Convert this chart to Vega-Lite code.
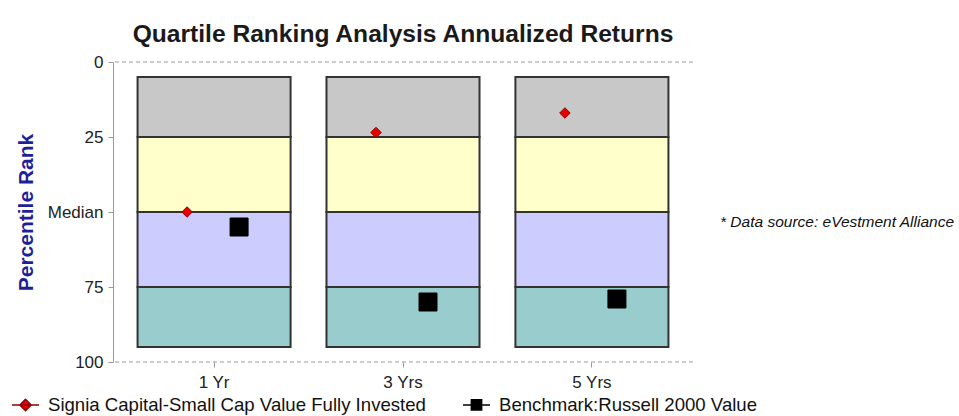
{
  "$schema": "https://vega.github.io/schema/vega-lite/v6.json",
  "padding": {"left": 11, "top": 22, "right": 0, "bottom": 0},
  "bounds": "flush",
  "spacing": 7,
  "config": {
    "view": {"stroke": null},
    "font": "Liberation Sans",
    "legend": {
      "orient": "none",
      "legendX": -102,
      "legendY": 328,
      "direction": "horizontal",
      "labelFontSize": 18.6,
      "labelColor": "#111111",
      "symbolSize": 729,
      "symbolStrokeWidth": 1.5,
      "symbolOpacity": 1,
      "columnPadding": 34,
      "labelOffset": 8,
      "padding": 0,
      "labelLimit": 500
    }
  },
  "datasets": {
    "bands": [
      {"period": "1 Yr", "quartile": "Q1", "lo": 5, "hi": 25},
      {"period": "1 Yr", "quartile": "Q2", "lo": 25, "hi": 50},
      {"period": "1 Yr", "quartile": "Q3", "lo": 50, "hi": 75},
      {"period": "1 Yr", "quartile": "Q4", "lo": 75, "hi": 95},
      {"period": "3 Yrs", "quartile": "Q1", "lo": 5, "hi": 25},
      {"period": "3 Yrs", "quartile": "Q2", "lo": 25, "hi": 50},
      {"period": "3 Yrs", "quartile": "Q3", "lo": 50, "hi": 75},
      {"period": "3 Yrs", "quartile": "Q4", "lo": 75, "hi": 95},
      {"period": "5 Yrs", "quartile": "Q1", "lo": 5, "hi": 25},
      {"period": "5 Yrs", "quartile": "Q2", "lo": 25, "hi": 50},
      {"period": "5 Yrs", "quartile": "Q3", "lo": 50, "hi": 75},
      {"period": "5 Yrs", "quartile": "Q4", "lo": 75, "hi": 95}
    ],
    "ranks": [
      {"period": "1 Yr", "series": "Signia Capital-Small Cap Value Fully Invested", "rank": 50},
      {"period": "3 Yrs", "series": "Signia Capital-Small Cap Value Fully Invested", "rank": 23.5},
      {"period": "5 Yrs", "series": "Signia Capital-Small Cap Value Fully Invested", "rank": 17},
      {"period": "1 Yr", "series": "Benchmark:Russell 2000 Value", "rank": 55},
      {"period": "3 Yrs", "series": "Benchmark:Russell 2000 Value", "rank": 80},
      {"period": "5 Yrs", "series": "Benchmark:Russell 2000 Value", "rank": 79}
    ],
    "grid": [{"g": 0}, {"g": 100}],
    "note": [{"note": "* Data source: eVestment Alliance"}]
  },
  "hconcat": [
    {
      "width": 580,
      "height": 300,
      "title": {
        "text": "Quartile Ranking Analysis Annualized Returns",
        "font": "Liberation Sans",
        "fontSize": 24.6,
        "fontWeight": "bold",
        "color": "#1a1a1a",
        "anchor": "middle",
        "offset": 5
      },
      "layer": [
        {
          "data": {"name": "grid"},
          "mark": {"type": "rule", "color": "#9a9a9a", "strokeDash": [4, 3], "strokeWidth": 1},
          "encoding": {
            "y": {
              "field": "g",
              "type": "quantitative",
              "scale": {"domain": [0, 100], "reverse": true, "nice": false, "zero": false},
              "axis": {
                "values": [0, 25, 50, 75, 100],
                "labelExpr": "datum.value == 50 ? 'Median' : datum.label",
                "grid": false,
                "domainColor": "#9a9a9a",
                "tickColor": "#9a9a9a",
                "tickSize": 5,
                "labelFontSize": 17,
                "labelColor": "#222222",
                "labelPadding": 5,
                "labelFlush": false,
                "labelOverlap": false,
                "title": "Percentile Rank",
                "titleColor": "#1f1f99",
                "titleFontSize": 21,
                "titleFontWeight": "bold",
                "titlePadding": 11
              }
            }
          }
        },
        {
          "data": {"name": "ranks"},
          "mark": {"type": "point", "filled": true, "size": 729, "strokeWidth": 1.5, "opacity": 1},
          "encoding": {
            "x": {
              "field": "period",
              "type": "nominal",
              "sort": ["1 Yr", "3 Yrs", "5 Yrs"],
              "scale": {"paddingInner": 0.19, "paddingOuter": 0.13},
              "axis": {
                "labelAngle": 0,
                "labelAlign": "center",
                "domain": false,
                "tickColor": "#9a9a9a",
                "tickSize": 5,
                "labelFontSize": 17,
                "labelColor": "#222222",
                "labelPadding": 7,
                "title": null
              }
            },
            "y": {"field": "rank", "type": "quantitative"},
            "shape": {
              "field": "series",
              "type": "nominal",
              "scale": {
                "domain": ["Signia Capital-Small Cap Value Fully Invested", "Benchmark:Russell 2000 Value"],
                "range": ["M-1,0H1M-0.42,0L0,-0.42L0.42,0L0,0.42Z", "M-1,0H1M-0.38,-0.38H0.38V0.38H-0.38Z"]
              },
              "legend": {"title": null}
            },
            "fill": {
              "field": "series",
              "type": "nominal",
              "scale": {"domain": ["Signia Capital-Small Cap Value Fully Invested", "Benchmark:Russell 2000 Value"], "range": ["#e60000", "#000000"]},
              "legend": {"title": null}
            },
            "stroke": {
              "field": "series",
              "type": "nominal",
              "scale": {"domain": ["Signia Capital-Small Cap Value Fully Invested", "Benchmark:Russell 2000 Value"], "range": ["#8b0000", "#000000"]},
              "legend": {"title": null}
            }
          }
        },
        {
          "data": {"name": "bands"},
          "mark": {"type": "bar", "stroke": "#333333", "strokeWidth": 2},
          "encoding": {
            "x": {"field": "period", "type": "nominal", "sort": ["1 Yr", "3 Yrs", "5 Yrs"]},
            "y": {"field": "lo", "type": "quantitative"},
            "y2": {"field": "hi"},
            "color": {
              "field": "quartile",
              "type": "nominal",
              "scale": {"domain": ["Q1", "Q2", "Q3", "Q4"], "range": ["#c8c8c8", "#ffffcc", "#ccccff", "#99cccc"]},
              "legend": null
            }
          }
        },
        {
          "data": {"name": "ranks"},
          "transform": [{"filter": "datum.series == 'Signia Capital-Small Cap Value Fully Invested'"}],
          "mark": {"type": "point", "shape": "diamond", "filled": true, "fill": "#e60000", "stroke": "#8b0000", "xOffset": -27, "size": 110, "strokeWidth": 1, "opacity": 1},
          "encoding": {
            "x": {"field": "period", "type": "nominal", "sort": ["1 Yr", "3 Yrs", "5 Yrs"]},
            "y": {"field": "rank", "type": "quantitative"}
          }
        },
        {
          "data": {"name": "ranks"},
          "transform": [{"filter": "datum.series == 'Benchmark:Russell 2000 Value'"}],
          "mark": {"type": "point", "shape": "square", "filled": true, "fill": "#000000", "stroke": "#000000", "xOffset": 25, "size": 324, "strokeWidth": 1, "opacity": 1},
          "encoding": {
            "x": {"field": "period", "type": "nominal", "sort": ["1 Yr", "3 Yrs", "5 Yrs"]},
            "y": {"field": "rank", "type": "quantitative"}
          }
        }
      ]
    },
    {
      "width": 40,
      "height": 300,
      "data": {"name": "note"},
      "mark": {"type": "text", "align": "left", "baseline": "middle", "fontStyle": "italic", "fontSize": 15.5, "font": "Liberation Sans", "color": "#111111", "dy": 10},
      "encoding": {"text": {"field": "note", "type": "nominal"}}
    }
  ]
}
